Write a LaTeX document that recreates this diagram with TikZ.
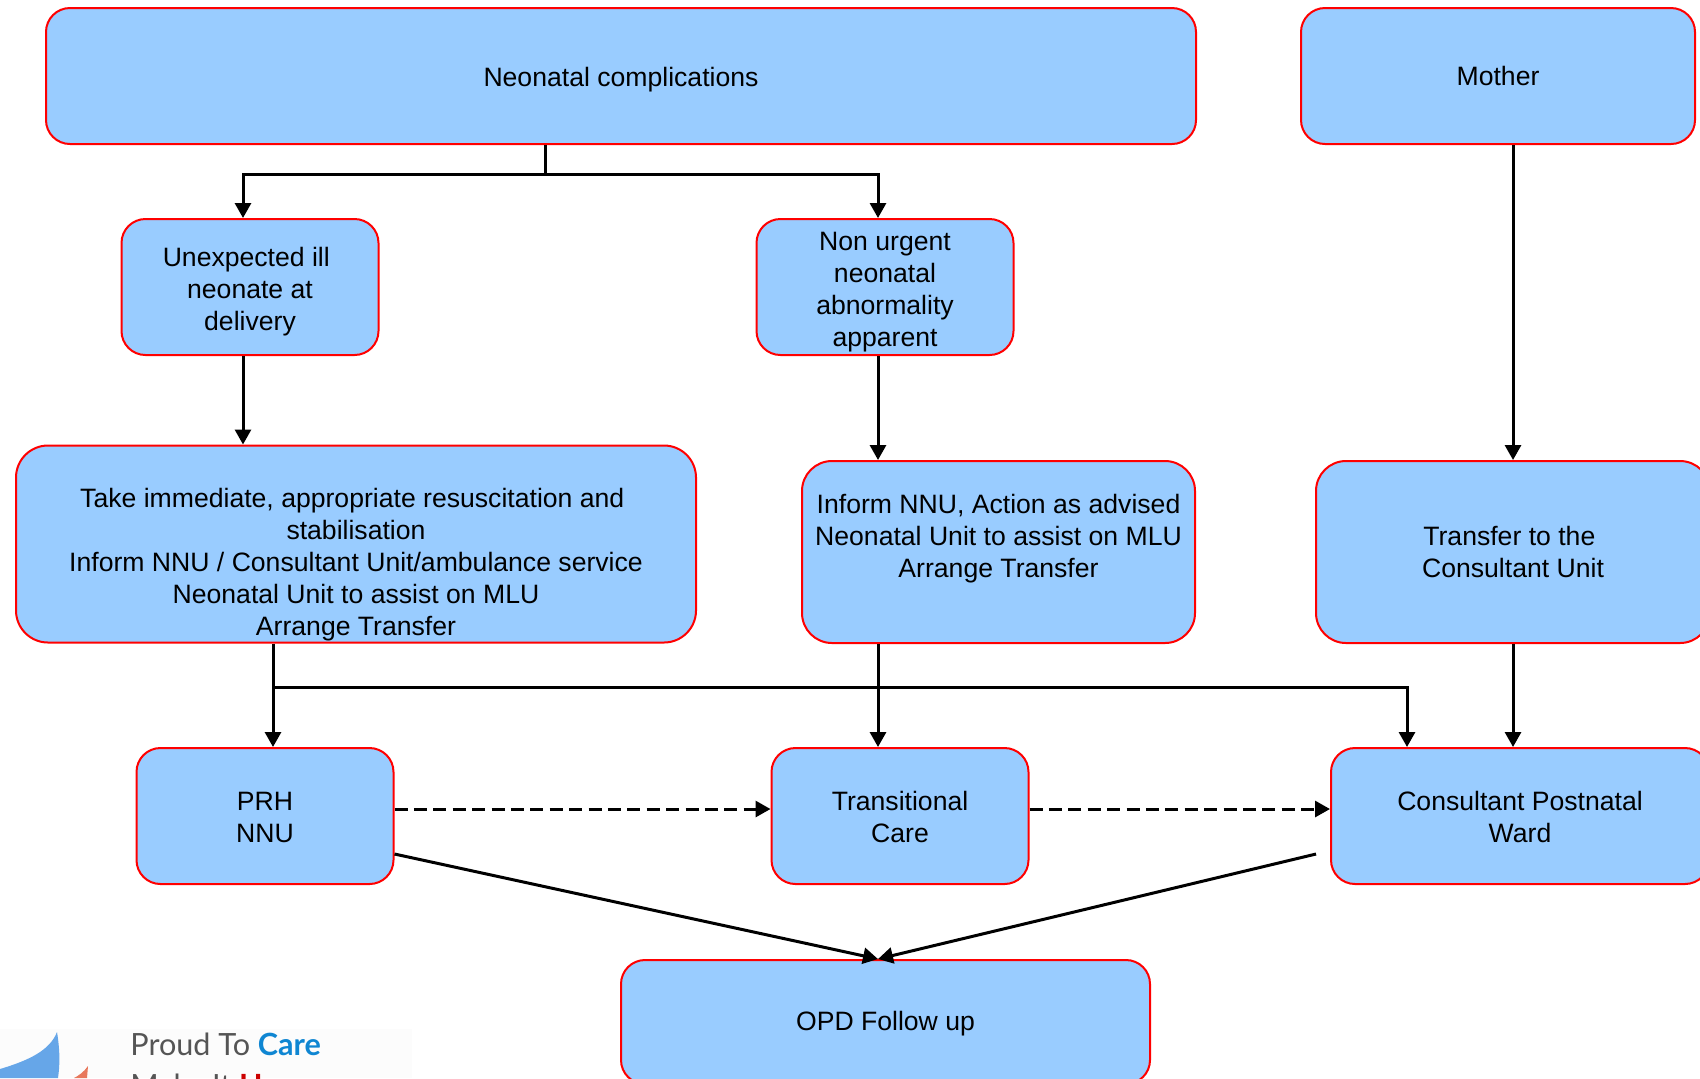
\documentclass[tikz,border=0pt]{standalone}
\usepackage{fontspec}
\setmainfont{Liberation Sans}
\newfontfamily\logofont{Lato}
\usetikzlibrary{arrows.meta}
\definecolor{boxblue}{HTML}{99CCFF}
\definecolor{logoblue}{HTML}{0F86D2}
\definecolor{logogray}{HTML}{555555}
\definecolor{logosky}{HTML}{66A6E8}
\definecolor{logored}{HTML}{E8785C}
\tikzset{
  box/.style={draw=red, fill=boxblue, line width=1pt, align=center, inner sep=0pt,
    font=\fontsize{13.3}{16}\selectfont},
  boxtext/.style={align=center, inner sep=0pt, font=\fontsize{13.3}{16}\selectfont},
  arr/.style={line width=1.5pt, -{Triangle[length=7.5pt,width=8pt]}},
  dasharr/.style={arr, dash pattern=on 6.5pt off 3.2pt},
  line/.style={line width=1.5pt},
  logotext/.style={inner sep=0pt, anchor=base west, font=\logofont\fontsize{15.3}{18}\selectfont}
}
\begin{document}
\begin{tikzpicture}[x=0.5pt, y=-0.5pt]
\clip (0,0) rectangle (1700,1078);
\fill[white] (0,0) rectangle (1700,1078);

% logo in the corner
\fill[black!1] (0,1029) rectangle (412,1078);
\fill[logosky] (0,1069) .. controls (30,1060) and (50,1050) .. (57,1032)
  .. controls (60,1050) and (60,1065) .. (58,1078) -- (0,1078) -- cycle;
\fill[logored] (88,1066) .. controls (84,1072) and (78,1076) .. (74,1078) -- (87,1078) -- cycle;
\node[logotext, text=logogray] (proud) at (130,1055) {Proud To \textcolor{logoblue}{\bfseries Care}};
\node[logotext, text=logogray] (makeit) at (130,1096) {Make It \textcolor{red!80!black}{\bfseries Happen}};

% boxes
\node[box, minimum width=575pt, minimum height=68pt, rounded corners=12pt] (neo) at (621,76) {};
\node[boxtext] (neotext) at (621,80) {Neonatal complications};
\node[box, minimum width=197pt, minimum height=68pt, rounded corners=12pt] (mother) at (1498,76) {Mother};
\node[box, minimum width=128.5pt, minimum height=68pt, rounded corners=12pt] (unexp) at (250,287) {};
\node[boxtext] (unexptext) at (250,292) {Unexpected ill\ \mbox{}\\neonate at\\delivery};
\node[box, minimum width=128.5pt, minimum height=68pt, rounded corners=12pt] (nonurg) at (885,287) {};
\node[boxtext] (nonurgtext) at (885,292) {Non urgent\\neonatal\\abnormality\\apparent};
\node[box, minimum width=340pt, minimum height=98.5pt, rounded corners=16pt] (take) at (356,544) {};
\node[boxtext] (taketext) at (356,565) {Take immediate, appropriate resuscitation and\ \mbox{}\\stabilisation\\Inform NNU / Consultant Unit/ambulance service\\Neonatal Unit to assist on MLU\\Arrange Transfer};
\node[box, minimum width=196.5pt, minimum height=91pt, rounded corners=15pt] (inform) at (998.5,552) {};
\node[boxtext] (informtext) at (998.5,539) {Inform NNU, Action as advised\\Neonatal Unit to assist on MLU\\Arrange Transfer};
\node[box, minimum width=197pt, minimum height=91pt, rounded corners=15pt] (transfer) at (1513,552) {Transfer to the\ \mbox{}\\Consultant Unit};
\node[box, minimum width=128.5pt, minimum height=68pt, rounded corners=12pt] (prh) at (265,816) {};
\node[boxtext] (prhtext) at (265,817) {PRH\\NNU};
\node[box, minimum width=128.5pt, minimum height=68pt, rounded corners=12pt] (trans) at (900,816) {};
\node[boxtext] (transtext) at (900,817) {Transitional\\Care};
\node[box, minimum width=189pt, minimum height=68pt, rounded corners=12pt] (cons) at (1520,816) {};
\node[boxtext] (constext) at (1520,817) {Consultant Postnatal\\Ward};
\node[box, minimum width=264.5pt, minimum height=62pt, rounded corners=12pt] (opd) at (885.5,1022) {};
\node[boxtext] (opdtext) at (885.5,1024) {OPD Follow up};

% columns the connectors run in
\coordinate (xa) at (243,0);
\coordinate (xb) at (273,0);
\coordinate (xc) at (878,0);
\coordinate (xd) at (1513,0);
\coordinate (xe) at (1407,0);
\coordinate (xf) at (545,0);
\coordinate (topbus) at (0,174);
\coordinate (lowbus) at (0,687);
\coordinate (dashy) at (0,809);
\coordinate (diagy) at (0,854);
\coordinate (consend) at (1316,854);

% connectors
\draw[line] (xf |- neo.south) -- (xf |- topbus);
\draw[arr] (xf |- topbus) -| (xa |- unexp.north);
\draw[arr] (xf |- topbus) -| (xc |- nonurg.north);
\draw[arr] (xa |- unexp.south) -- (xa |- take.north);
\draw[arr] (xc |- nonurg.south) -- (xc |- inform.north);
\draw[arr] (xd |- mother.south) -- (xd |- transfer.north);
\draw[arr] (xb |- take.south) -- (xb |- prh.north);
\draw[arr] (xc |- inform.south) -- (xc |- trans.north);
\draw[arr] (xd |- transfer.south) -- (xd |- cons.north);
\draw[arr] (xb |- lowbus) -| (xe |- cons.north);
\draw[dasharr] (prh.east |- dashy) -- (trans.west |- dashy);
\draw[dasharr] (trans.east |- dashy) -- (cons.west |- dashy);
\draw[arr] (prh.east |- diagy) -- (opd.north -| xc);
\draw[arr] (consend) -- (opd.north -| xc);
\end{tikzpicture}
\end{document}
